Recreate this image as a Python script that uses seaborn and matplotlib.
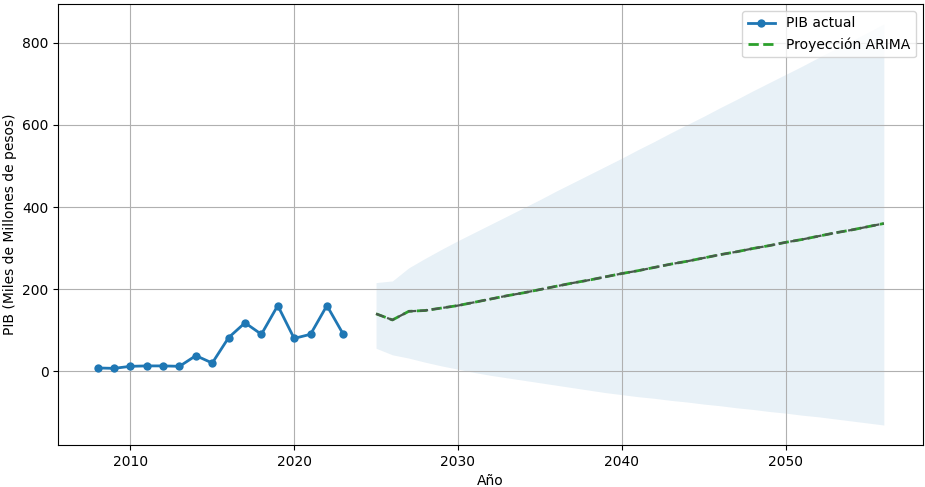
import matplotlib
matplotlib.use("Agg")
import matplotlib.pyplot as plt
import seaborn as sns
import pandas as pd

# Observed GDP
years_actual = [2008, 2009, 2010, 2011, 2012, 2013, 2014, 2015,
                2016, 2017, 2018, 2019, 2020, 2021, 2022, 2023]
pib_actual = [8, 7, 12, 13, 13, 12, 38, 20,
              82, 118, 90, 160, 80, 90, 160, 90]

# ARIMA projection with its confidence interval
years_forecast = list(range(2025, 2057))
pib_forecast = [140, 125, 146, 148, 154, 160, 168, 176, 184, 191, 199,
                207, 215, 222, 230, 238, 245, 253, 261, 268, 276, 284,
                291, 299, 306, 314, 321, 329, 337, 344, 352, 360]
ci_lower = [56, 40, 32, 22, 13, 5, -3, -10, -16, -22, -28,
            -34, -40, -46, -52, -57, -62, -66, -71, -75, -80, -84,
            -89, -93, -98, -102, -107, -111, -116, -121, -126, -131]
ci_upper = [216, 220, 252, 275, 297, 318, 338, 358, 378, 398, 418,
            439, 459, 479, 499, 519, 540, 560, 581, 601, 621, 642,
            662, 683, 703, 723, 743, 764, 784, 804, 825, 846]

df_actual = pd.DataFrame({"Año": years_actual, "PIB": pib_actual})
df_fc = pd.DataFrame({"Año": years_forecast, "PIB": pib_forecast,
                      "low": ci_lower, "high": ci_upper})

fig, ax = plt.subplots(figsize=(9.25, 4.87), dpi=100)
fig.subplots_adjust(left=0.063, right=0.998, top=0.992, bottom=0.086)

sns.lineplot(data=df_actual, x="Año", y="PIB", marker="o", markersize=6,
             markeredgewidth=0, linewidth=2, color="#1f77b4",
             label="PIB actual", ax=ax)
sns.lineplot(data=df_fc, x="Año", y="PIB", color="#2ca02c", linewidth=2,
             linestyle="--", label="Proyección ARIMA", ax=ax)
sns.lineplot(data=df_fc, x="Año", y="PIB", color="#4a5a4d", linewidth=1.6,
             linestyle="--", legend=False, ax=ax)
ax.fill_between(df_fc["Año"], df_fc["low"], df_fc["high"],
                color="#1f77b4", alpha=0.1, linewidth=0)

ax.set_ylim(-180, 895)
ax.set_xlabel("Año")
ax.set_ylabel("PIB (Miles de Millones de pesos)")
ax.grid(True, color="#b0b0b0", linewidth=0.8)
ax.legend(loc="upper right")

fig.savefig("out.png", dpi=100)
